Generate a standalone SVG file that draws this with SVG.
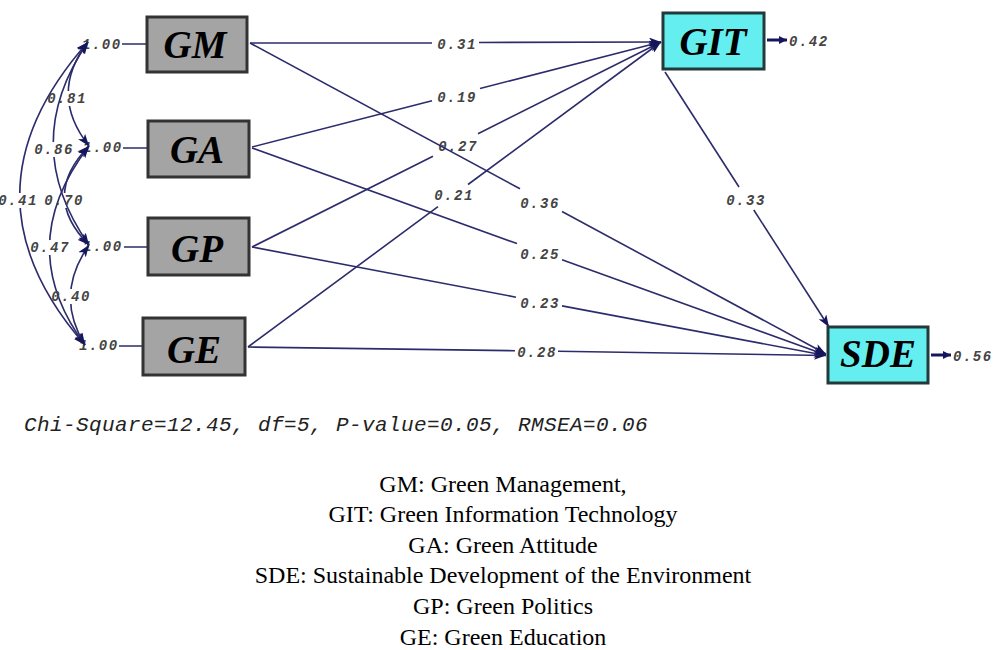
<svg xmlns="http://www.w3.org/2000/svg" width="998" height="650" viewBox="0 0 998 650">
  <style>
    .obs rect{fill:#a4a4a4;stroke:#333;stroke-width:3}
    .lat rect{fill:#64eef0;stroke:#223a3a;stroke-width:3}
    .nm{font-family:"Liberation Serif","Times New Roman",serif;font-style:italic;font-weight:bold;font-size:39px;fill:#000;text-anchor:middle}
    .edge{stroke:#2c2c6c;stroke-width:1.6;fill:none}
    .err{stroke:#16165c;stroke-width:3;fill:none}
    .lab{font-family:"Liberation Mono","Courier New",monospace;font-style:italic;font-weight:bold;font-size:14px;letter-spacing:1.5px;fill:#444}
    .mid{text-anchor:middle}
    .fit{font-family:"Liberation Mono","Courier New",monospace;font-style:italic;font-size:21px;letter-spacing:0.4px;fill:#222}
    .key{font-family:"Liberation Serif","Times New Roman",serif;font-size:24px;fill:#000;text-anchor:middle}
  </style>
  <defs>
    <marker id="ah" viewBox="0 0 12 9" refX="12" refY="4.5" markerWidth="12" markerHeight="9" markerUnits="userSpaceOnUse" orient="auto-start-reverse">
      <path d="M0,0 L12,4.5 L0,9 L3,4.5 Z" fill="#16165c"/>
    </marker>
    <marker id="ahs" viewBox="0 0 8 8" refX="8" refY="4" markerWidth="8" markerHeight="8" markerUnits="userSpaceOnUse" orient="auto">
      <path d="M0,0 L8,4 L0,8 Z" fill="#16165c"/>
    </marker>
    <!-- gaps in the covariance arcs where their values sit -->
    <mask id="m81" maskUnits="userSpaceOnUse" x="-60" y="0" width="200" height="400"><rect x="-60" y="0" width="200" height="400" fill="#fff"/><rect x="47" y="91" width="40" height="15" fill="#000"/></mask>
    <mask id="m86" maskUnits="userSpaceOnUse" x="-60" y="0" width="200" height="400"><rect x="-60" y="0" width="200" height="400" fill="#fff"/><rect x="34" y="142" width="40" height="15" fill="#000"/></mask>
    <mask id="m41" maskUnits="userSpaceOnUse" x="-60" y="0" width="200" height="400"><rect x="-60" y="0" width="200" height="400" fill="#fff"/><rect x="-2" y="193" width="40" height="15" fill="#000"/></mask>
    <mask id="m70" maskUnits="userSpaceOnUse" x="-60" y="0" width="200" height="400"><rect x="-60" y="0" width="200" height="400" fill="#fff"/><rect x="44" y="193" width="40" height="15" fill="#000"/></mask>
    <mask id="m47" maskUnits="userSpaceOnUse" x="-60" y="0" width="200" height="400"><rect x="-60" y="0" width="200" height="400" fill="#fff"/><rect x="30" y="240" width="40" height="15" fill="#000"/></mask>
    <mask id="m40" maskUnits="userSpaceOnUse" x="-60" y="0" width="200" height="400"><rect x="-60" y="0" width="200" height="400" fill="#fff"/><rect x="51" y="289" width="40" height="15" fill="#000"/></mask>
  </defs>

  <rect width="998" height="650" fill="#fff"/>

  <g id="connectors">
    <!-- variances of the exogenous variables -->
    <g id="variances">
      <text class="lab" x="82" y="49">1.00</text>
      <text class="lab" x="83" y="152">1.00</text>
      <text class="lab" x="83" y="251">1.00</text>
      <text class="lab" x="79" y="350">1.00</text>
      <path class="edge" d="M122,44 L147,44 M123,148 L148,148 M124,247 L148,247 M119,346 L143,346"/>
    </g>

    <!-- covariances between GM, GA, GP, GE -->
    <g id="covariances">
      <path class="edge" mask="url(#m81)" d="M88,42 Q48,94 89,146" marker-start="url(#ah)" marker-end="url(#ah)"/>
      <path class="edge" mask="url(#m86)" d="M88,42 Q18,144 89,245" marker-start="url(#ah)" marker-end="url(#ah)"/>
      <path class="edge" mask="url(#m41)" d="M88,42 Q-47,194 85,345" marker-start="url(#ah)" marker-end="url(#ah)"/>
      <path class="edge" mask="url(#m70)" d="M89,146 Q40,196 89,245" marker-start="url(#ah)" marker-end="url(#ah)"/>
      <path class="edge" mask="url(#m47)" d="M89,146 Q12,246 85,345" marker-start="url(#ah)" marker-end="url(#ah)"/>
      <path class="edge" mask="url(#m40)" d="M89,245 Q54,295 85,345" marker-start="url(#ah)" marker-end="url(#ah)"/>
      <text class="lab mid" x="67" y="103">0.81</text>
      <text class="lab mid" x="54" y="154">0.86</text>
      <text class="lab mid" x="18" y="205">0.41</text>
      <text class="lab mid" x="64" y="205">0.70</text>
      <text class="lab mid" x="50" y="252">0.47</text>
      <text class="lab mid" x="71" y="301">0.40</text>
    </g>

    <!-- paths into GIT -->
    <g id="to-git">
      <path class="edge" d="M250,43 L432,43"/><path class="edge" d="M479,42.5 L661,42" marker-end="url(#ah)"/>
      <path class="edge" d="M252,147 L432,100.8"/><path class="edge" d="M480,88.5 L661,42" marker-end="url(#ah)"/>
      <path class="edge" d="M252,247 L433,156.3"/><path class="edge" d="M478,133.7 L661,42" marker-end="url(#ah)"/>
      <path class="edge" d="M248,347 L438,206.7"/><path class="edge" d="M468,184.5 L661,42" marker-end="url(#ah)"/>
      <text class="lab mid" x="457" y="49">0.31</text>
      <text class="lab mid" x="457" y="102">0.19</text>
      <text class="lab mid" x="458" y="151">0.27</text>
      <text class="lab mid" x="454" y="200">0.21</text>
    </g>

    <!-- paths into SDE -->
    <g id="to-sde">
      <path class="edge" d="M250,43 L520,188.8"/><path class="edge" d="M562,211.5 L826,354" marker-end="url(#ah)"/>
      <path class="edge" d="M252,148 L517,243.6"/><path class="edge" d="M562,259.8 L826,355" marker-end="url(#ah)"/>
      <path class="edge" d="M252,247 L516,297.2"/><path class="edge" d="M562,305.9 L826,355.5" marker-end="url(#ah)"/>
      <path class="edge" d="M248,347 L515,350.7"/><path class="edge" d="M558,351.3 L826,355.5" marker-end="url(#ah)"/>
      <path class="edge" d="M665,72 L739,187"/><path class="edge" d="M753.8,210 L829,327" marker-end="url(#ah)"/>
      <text class="lab mid" x="540" y="208">0.36</text>
      <text class="lab mid" x="540" y="259">0.25</text>
      <text class="lab mid" x="540" y="308">0.23</text>
      <text class="lab mid" x="537" y="357">0.28</text>
      <text class="lab mid" x="746" y="205">0.33</text>
    </g>

    <!-- error terms of the endogenous variables -->
    <g id="errors">
      <path class="err" d="M767,40 L787,40" marker-end="url(#ahs)"/>
      <path class="err" d="M931,355 L951,355" marker-end="url(#ahs)"/>
      <text class="lab" x="789" y="46">0.42</text>
      <text class="lab" x="953" y="361">0.56</text>
    </g>
  </g>

  <g id="GM" class="obs"><rect x="147" y="17" width="100" height="55"/><text class="nm" x="195" y="58">GM</text></g>
  <g id="GA" class="obs"><rect x="148" y="121" width="101" height="56"/><text class="nm" x="197" y="163">GA</text></g>
  <g id="GP" class="obs"><rect x="148" y="218" width="101" height="57"/><text class="nm" x="197" y="262">GP</text></g>
  <g id="GE" class="obs"><rect x="143" y="318" width="102" height="57"/><text class="nm" x="194" y="363">GE</text></g>
  <g id="GIT" class="lat"><rect x="663" y="13" width="101" height="56"/><text class="nm" x="713" y="55">GIT</text></g>
  <g id="SDE" class="lat"><rect x="828" y="327" width="100" height="56"/><text class="nm" x="878" y="367">SDE</text></g>

  <text class="fit" x="24" y="431">Chi-Square=12.45, df=5, P-value=0.05, RMSEA=0.06</text>

  <g id="legend">
    <text class="key" x="503" y="492">GM: Green Management,</text>
    <text class="key" x="503" y="522">GIT: Green Information Technology</text>
    <text class="key" x="503" y="553">GA: Green Attitude</text>
    <text class="key" x="503" y="583">SDE: Sustainable Development of the Environment</text>
    <text class="key" x="503" y="614">GP: Green Politics</text>
    <text class="key" x="503" y="645">GE: Green Education</text>
  </g>
</svg>
